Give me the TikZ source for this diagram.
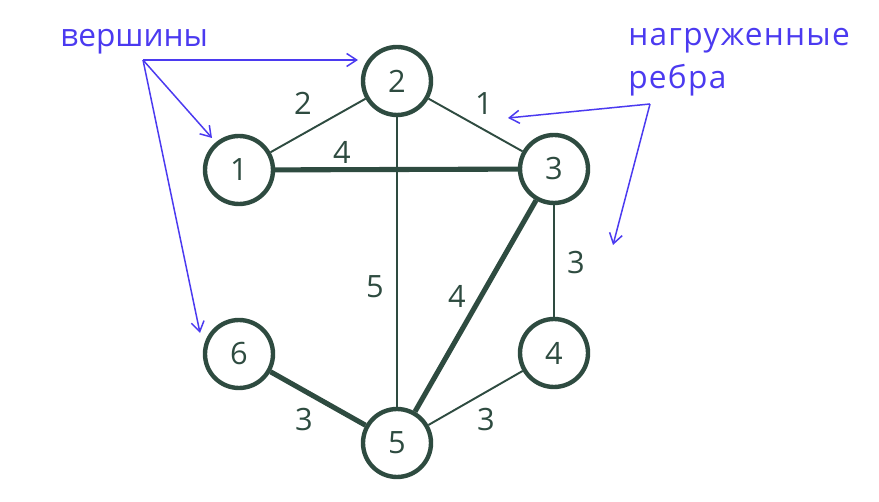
\documentclass[tikz,border=0pt]{standalone}
\usepackage{fontspec}
\setmainfont{Open Sans}
\usepackage{xcolor}
\usepackage{tikz}
\usetikzlibrary{arrows.meta}
\definecolor{graphgreen}{HTML}{2E4B40}
\definecolor{noteblue}{HTML}{4B3AF0}

\begin{document}
\begin{tikzpicture}[x=0.02cm, y=-0.02cm,
  vertex/.style={circle, draw=graphgreen, line width=2.5pt, minimum size=1.36cm, inner sep=0pt, text=graphgreen, font=\fontsize{17.5}{20}\selectfont},
  weight/.style={text=graphgreen, inner sep=0pt, font=\fontsize{17.5}{20}\selectfont},
  thinedge/.style={draw=graphgreen, line width=1.1pt},
  thickedge/.style={draw=graphgreen, line width=2.9pt},
  note/.style={text=noteblue, inner sep=0pt, anchor=base west, font=\fontsize{18}{24}\selectfont},
  pointer/.style={draw=noteblue, line width=0.85pt, -{Straight Barb[length=2mm, width=2.6mm]}}]
\useasboundingbox (0,0) rectangle (879,502);
\node[vertex] (v1) at (239,170) {1};
\node[vertex] (v2) at (397,81) {2};
\node[vertex] (v3) at (554,169) {3};
\node[vertex] (v4) at (554,353) {4};
\node[vertex] (v5) at (397,443) {5};
\node[vertex] (v6) at (239,354) {6};
\draw[thinedge] (v1) -- (v2);
\draw[thinedge] (v2) -- (v3);
\draw[thinedge] (v2) -- (v5);
\draw[thinedge] (v3) -- (v4);
\draw[thinedge] (v5) -- (v4);
\draw[thickedge] (v1) -- (v3);
\draw[thickedge] (v3) -- (v5);
\draw[thickedge] (v6) -- (v5);
\node[weight] (w12) at (303,103) {2};
\node[weight] (w23) at (484,104) {1};
\node[weight] (w13) at (342,152) {4};
\node[weight] (w25) at (375,287) {5};
\node[weight] (w35) at (457,296) {4};
\node[weight] (w34) at (576,263) {3};
\node[weight] (w65) at (304,420) {3};
\node[weight] (w54) at (486,420) {3};
\node[note] (vertices) at (60,47) {вершины};
\node[note, font=\fontsize{18}{24}\selectfont\addfontfeature{LetterSpace=4}] (edges1) at (628,46) {нагруженные};
\node[note, font=\fontsize{18}{24}\selectfont\addfontfeature{LetterSpace=4}] (edges2) at (628,89) {ребра};
\coordinate (vfrom) at (143,60);
\coordinate (to2) at (358,60);
\coordinate (to1) at (212,138);
\coordinate (to6) at (200,333);
\coordinate (efrom) at (650,104);
\coordinate (to23) at (508,118);
\coordinate (to34) at (613,245);
\draw[pointer] (vfrom) -- (to2);
\draw[pointer] (vfrom) -- (to1);
\draw[pointer] (vfrom) -- (to6);
\draw[pointer] (efrom) -- (to23);
\draw[pointer] (efrom) -- (to34);
\end{tikzpicture}
\end{document}
